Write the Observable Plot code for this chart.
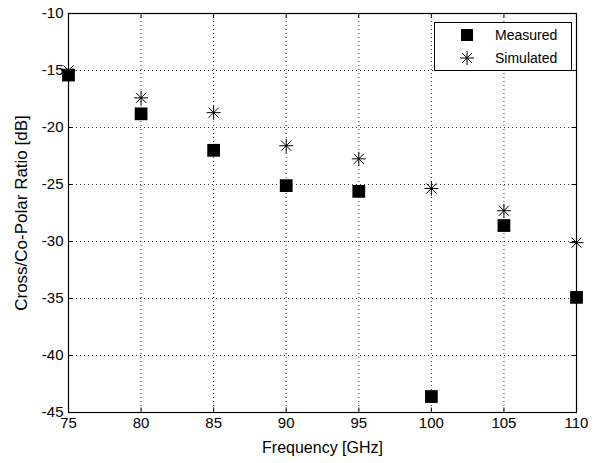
<!DOCTYPE html>
<html>
<head>
<meta charset="utf-8">
<script src="https://cdn.jsdelivr.net/npm/d3@7"></script>
<script src="https://cdn.jsdelivr.net/npm/@observablehq/plot@0.6"></script>
<style>
  html, body { margin: 0; padding: 0; background: #fff; }
  #wrap { position: relative; width: 595px; height: 463px; }
  #legend { position: absolute; left: 434px; top: 22px; }
</style>
</head>
<body>
<div id="wrap"></div>
<script>
const frequency = [75, 80, 85, 90, 95, 100, 105, 110];
const measured = [-15.4, -18.8, -22.0, -25.1, -25.6, -43.6, -28.6, -34.9];
const simulated = [-15.0, -17.4, -18.7, -21.6, -22.75, -25.35, -27.3, -30.1];
const xTicks = [75, 80, 85, 90, 95, 100, 105, 110];
const yTicks = [-45, -40, -35, -30, -25, -20, -15, -10];
const seriesNames = ["Measured", "Simulated"];

const measData = frequency.map((f, i) => ({f, v: measured[i]}));
const simData = frequency.map((f, i) => ({f, v: simulated[i]}));

const asterisk = {
  draw(ctx, size) {
    const r = Math.sqrt(size / Math.PI);
    const d = r * 0.72;
    ctx.moveTo(0, -r); ctx.lineTo(0, r);
    ctx.moveTo(-r, 0); ctx.lineTo(r, 0);
    ctx.moveTo(-d, -d); ctx.lineTo(d, d);
    ctx.moveTo(-d, d); ctx.lineTo(d, -d);
  }
};

const font = "'Liberation Sans', Arial, Helvetica, sans-serif";

const chart = Plot.plot({
  width: 595,
  height: 463,
  marginLeft: 68,
  marginRight: 19,
  marginTop: 13,
  marginBottom: 51,
  style: {fontFamily: font, fontSize: "15px", color: "#000", background: "#fff", overflow: "visible"},
  x: {domain: [75, 110]},
  y: {domain: [-45, -10]},
  marks: [
    Plot.gridX(xTicks, {stroke: "#000", strokeOpacity: 0.8, strokeDasharray: "1,3"}),
    Plot.gridY(yTicks, {stroke: "#000", strokeOpacity: 0.8, strokeDasharray: "1,3"}),
    Plot.ruleX(xTicks, {x: d => d, y1: -45, y2: -44.6, stroke: "#000"}),
    Plot.ruleX(xTicks, {x: d => d, y1: -10, y2: -10.4, stroke: "#000"}),
    Plot.ruleY(yTicks, {y: d => d, x1: 75, x2: 75.3, stroke: "#000"}),
    Plot.ruleY(yTicks, {y: d => d, x1: 110, x2: 109.7, stroke: "#000"}),
    Plot.frame({stroke: "#000", strokeWidth: 1.2}),
    Plot.axisX(xTicks, {tickSize: 0, tickPadding: 5, fontSize: 15, label: null}),
    Plot.axisX({tickSize: 0, ticks: [], label: "Frequency [GHz]", labelAnchor: "center", labelArrow: "none", labelOffset: 40, fontSize: 16}),
    Plot.axisY(yTicks, {tickSize: 0, tickPadding: 5, tickFormat: d => d, fontSize: 15, label: null}),
    Plot.axisY({tickSize: 0, ticks: [], label: "Cross/Co-Polar Ratio [dB]", labelAnchor: "center", labelArrow: "none", labelOffset: 54, fontSize: 17}),
    Plot.dot(measData, {x: "f", y: "v", symbol: "square", fill: "#000", r: 7.2}),
    Plot.dot(simData, {x: "f", y: "v", symbol: asterisk, stroke: "#000", fill: "none", strokeWidth: 1, r: 7})
  ]
});

const wrap = document.getElementById("wrap");
wrap.appendChild(chart);

// Legend overlay (inside plot, upper right)
const ns = "http://www.w3.org/2000/svg";
const leg = document.createElementNS(ns, "svg");
leg.setAttribute("id", "legend");
leg.setAttribute("width", 138);
leg.setAttribute("height", 49);
leg.style.fontFamily = font;
const box = document.createElementNS(ns, "rect");
box.setAttribute("x", 0.5); box.setAttribute("y", 0.5);
box.setAttribute("width", 137); box.setAttribute("height", 48);
box.setAttribute("fill", "#fff"); box.setAttribute("stroke", "#000");
leg.appendChild(box);
const sq = document.createElementNS(ns, "rect");
sq.setAttribute("x", 27); sq.setAttribute("y", 7); sq.setAttribute("width", 12); sq.setAttribute("height", 12);
sq.setAttribute("fill", "#000");
leg.appendChild(sq);
const st = document.createElementNS(ns, "path");
const p = d3.path();
asterisk.draw(p, Math.PI * 49);
st.setAttribute("d", p.toString());
st.setAttribute("transform", "translate(33,36)");
st.setAttribute("stroke", "#000"); st.setAttribute("fill", "none");
leg.appendChild(st);
seriesNames.forEach((name, i) => {
  const t = document.createElementNS(ns, "text");
  t.setAttribute("x", 61); t.setAttribute("y", 13 + i * 23);
  t.setAttribute("dy", "0.35em");
  t.setAttribute("font-size", "14px");
  t.textContent = name;
  leg.appendChild(t);
});
wrap.appendChild(leg);
</script>
</body>
</html>
